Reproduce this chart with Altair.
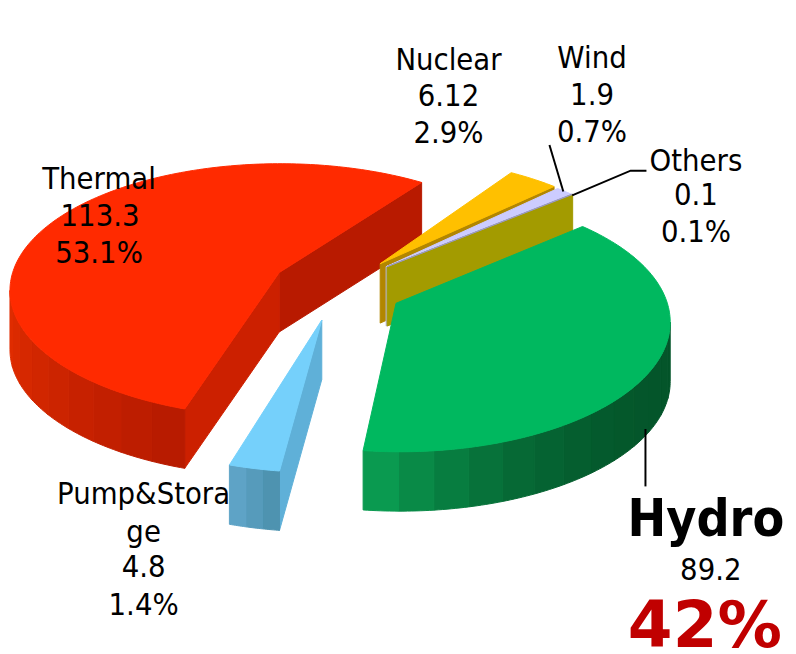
import math
import altair as alt
import pandas as pd

# ---- chart values ----
names = ["Hydro", "Pump&Storage", "Thermal", "Nuclear", "Wind", "Others"]
values = [89.2, 4.8, 113.3, 6.12, 1.9, 0.1]
top_colors = ["#00B85F", "#75D0FB", "#FF2A00", "#FFC000", "#CCCCFF", "#9A9AC0"]

# ---- 3-D projection of the exploded pie ----
RX, DEPTH = 273, 60
total = sum(values)
geometry = {
    # apex x, apex y, ellipse centre x, centre y, vertical radius, start angle, sweep gain
    "Thermal": (282, 272, 283, 290, 128, 110.7, 1.008),
    "Nuclear": (384, 263, 384, 283, 128, -61.0, 1.08),
    "Wind": (390, 266, 390, 286, 128, -50.6, 1.25),
    "Others": (391, 266, 391, 286, 128, -46.8, 1.0),
    "Pump&Storage": (325, 320, 325, 346, 128, 99.0, 1.37),
    "Hydro": (400, 303, 404, 322, 131, -47.5, 0.975),
}
faces = {  # wall colours: start face, end face, outer wall stops
    "Thermal": ("#CC2000", "#B81A00", ("#B81B00", "#E02C00")),
    "Nuclear": (None, "#B28600", None),
    "Wind": (None, "#B8B8E8", None),
    "Others": (None, "#A39B00", None),
    "Pump&Storage": ("#5FB0D8", None, ("#4E93B0", "#5EA3C6")),
    "Hydro": (None, None, ("#04552A", "#0A9A50")),
}
order_drawn = ["Thermal", "Nuclear", "Wind", "Others", "Pump&Storage", "Hydro"]


def mix(a, b, f):
    ca = [int(a[i:i + 2], 16) for i in (1, 3, 5)]
    cb = [int(b[i:i + 2], 16) for i in (1, 3, 5)]
    return "#%02X%02X%02X" % tuple(round(p + (q - p) * f) for p, q in zip(ca, cb))


rows = []
pid = 0


def poly(points, fill):
    global pid
    pid += 1
    for i, (x, y) in enumerate(points):
        rows.append({"piece": pid, "seq": i, "x": x, "y": y, "fill": fill})


for name in order_drawn:
    idx = names.index(name)
    ax, ay, cx, cy, ry, t0, gain = geometry[name]
    t1 = t0 + values[idx] / total * 360 * gain
    pt = lambda t: (cx + RX * math.cos(math.radians(t)), cy + ry * math.sin(math.radians(t)))
    f0, f1, wall = faces[name]
    if f1:
        p = pt(t1)
        poly([(ax, ay), p, (p[0], p[1] + DEPTH), (ax, ay + DEPTH)], f1)
    if f0:
        p = pt(t0)
        poly([(ax, ay), p, (p[0], p[1] + DEPTH), (ax, ay + DEPTH)], f0)
    if wall:
        if name == "Hydro":
            a, b = max(t0, 0), t1
        elif name == "Thermal":
            a, b = t0, 180
        else:
            a, b = t0, t1
        n = max(3, int((b - a) / 7))
        for k in range(n):
            ta = a + (b - a) * k / n
            tb = a + (b - a) * (k + 1) / n
            sub = [ta + (tb - ta) * j / 8 for j in range(9)]
            up = [pt(t) for t in sub]
            low = [(x, y + DEPTH) for x, y in reversed(up)]
            frac = k / max(1, n - 1)
            if name == "Hydro":
                frac = frac ** 3
            poly(up + low, mix(wall[0], wall[1], frac))
    steps = max(2, int(abs(t1 - t0)))
    arc = [pt(t0 + (t1 - t0) * j / steps) for j in range(steps + 1)]
    poly([(ax, ay)] + arc, top_colors[idx])

df = pd.DataFrame(rows)

xs = alt.X("x:Q", scale=alt.Scale(domain=[8, 796]), axis=None)
ys = alt.Y("y:Q", scale=alt.Scale(domain=[654, 8]), axis=None)

shapes = alt.Chart(df).mark_line(interpolate="linear-closed", filled=True, strokeWidth=1).encode(
    x=xs, y=ys,
    detail="piece:N",
    order="seq:Q",
    fill=alt.Fill("fill:N", scale=None),
    stroke=alt.Stroke("fill:N", scale=None),
)

lead_x = [652, 652, 555, 569, 578, 637, 653]
lead_y = [430, 488, 143, 190, 194, 169, 169]
lead_id = [0, 0, 1, 1, 2, 2, 2]
leaders = alt.Chart(pd.DataFrame({"x": lead_x, "y": lead_y, "id": lead_id})).mark_line(
    color="black", strokeWidth=2).encode(x=xs, y=ys, detail="id:N")

FONT = "DejaVu Sans Condensed"
label_text = ["Thermal", "113.3", "53.1%", "Nuclear", "6.12", "2.9%", "Wind", "1.9", "0.7%",
              "Pump&Stora", "ge", "4.8", "1.4%", "89.2",
              "Others", "0.1", "0.1%"]
label_x = [100, 101, 100, 453, 453, 453, 598, 598, 598, 145, 145, 145, 145, 718,
           703, 703, 703]
label_y = [188, 225, 262, 67, 104, 141, 65, 103, 140, 506, 544, 580, 618, 583,
           169, 204, 241]
labels = alt.Chart(pd.DataFrame({"t": label_text, "x": label_x, "y": label_y})).mark_text(
    font=FONT, fontSize=31, color="black", baseline="alphabetic", align="center"
).encode(x=xs, y=ys, text="t:N")

hydro_label = alt.Chart(pd.DataFrame({"t": ["Hydro"], "x": [713], "y": [538]})).mark_text(
    font=FONT, fontSize=52, fontWeight="bold", color="black", baseline="alphabetic", align="center"
).encode(x=xs, y=ys, text="t:N")
pct_label = alt.Chart(pd.DataFrame({"t": ["42%"], "x": [712], "y": [650]})).mark_text(
    font="DejaVu Sans", fontSize=65, fontWeight="bold", color="#C00000", baseline="alphabetic", align="center"
).encode(x=xs, y=ys, text="t:N")

chart = alt.layer(shapes, leaders, labels, hydro_label, pct_label).properties(
    width=788, height=646, padding=0, autosize=alt.AutoSizeParams(type="none")
).configure_view(stroke=None)

chart.save("out.html", embed_options={"renderer": "svg", "actions": False})
